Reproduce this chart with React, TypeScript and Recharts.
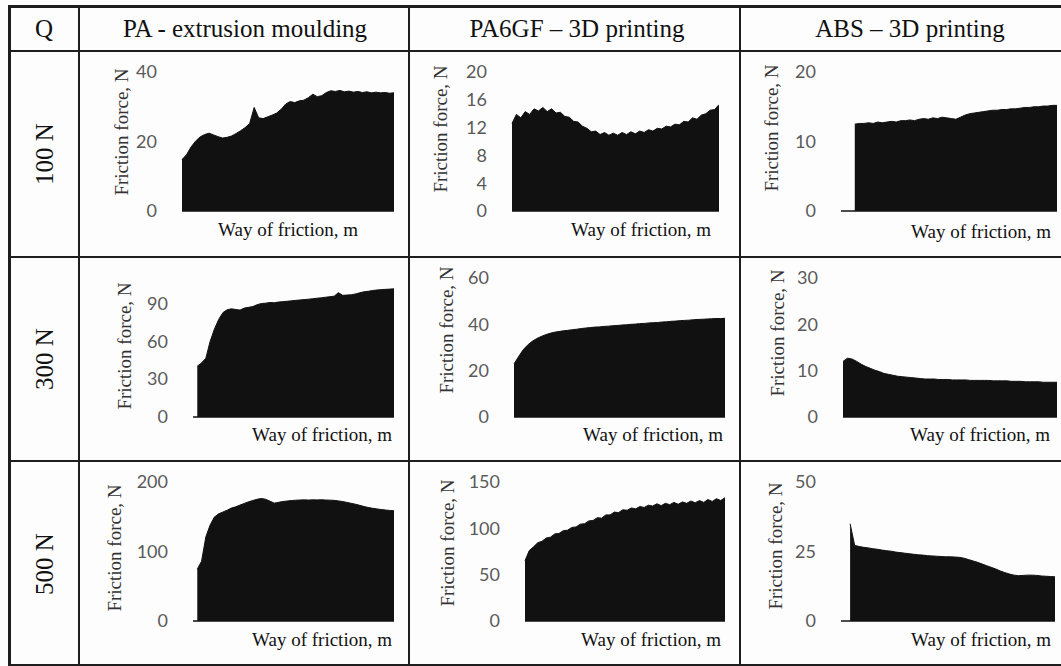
import { Area, AreaChart, ReferenceLine, XAxis, YAxis } from 'recharts'

// column / row headings
const materials = ['PA - extrusion moulding', 'PA6GF – 3D printing', 'ABS – 3D printing']
const loads = ['100 N', '300 N', '500 N']

// friction force readings, N (null = before the trace starts)
const paF100 = [14.8, 16.2, 18.4, 20.1, 21.3, 22.0, 22.4, 21.9, 21.4, 21.0, 21.2, 21.6, 22.3, 23.1, 24.0, 25.2, 29.8, 26.8, 26.6, 27.1, 27.6, 28.2, 29.3, 30.8, 31.5, 31.2, 31.7, 31.9, 32.6, 33.6, 32.9, 33.2, 34.1, 34.6, 34.4, 34.7, 34.3, 34.5, 34.2, 34.4, 34.1, 34.3, 34.0, 34.2, 34.0, 34.1, 33.9, 34.0]
const paF300 = [null, 40.2, 42.8, 46.5, 59.8, 69.5, 77.2, 82.6, 84.9, 85.6, 85.1, 84.6, 86.2, 86.8, 87.4, 88.9, 89.8, 90.1, 90.6, 90.4, 91.0, 91.3, 91.6, 91.9, 92.3, 92.6, 92.9, 93.2, 93.6, 94.0, 94.3, 94.8, 95.2, 95.6, 98.4, 96.3, 96.5, 96.7, 97.4, 98.3, 99.1, 99.5, 100.1, 100.5, 100.8, 101.0, 101.2, 101.4]
const paF500 = [null, 74.5, 86, 121, 138, 149.5, 154.2, 156.8, 159.5, 162.6, 164.3, 166.8, 169.2, 171.5, 173.4, 175.2, 176.3, 175.1, 172.4, 169.6, 170.8, 171.9, 172.6, 173.3, 173.8, 174.1, 174.3, 174.0, 174.4, 174.2, 174.5, 174.1, 173.9, 173.6, 172.8, 171.9, 170.6, 169.3, 168.0, 166.4, 164.7, 163.3, 162.2, 161.3, 160.4, 159.7, 159.1, 158.6]
const gfF100 = [12.6, 13.9, 13.4, 14.3, 13.9, 14.7, 14.4, 14.9, 14.3, 14.7, 14.1, 14.2, 13.6, 13.5, 12.9, 12.8, 12.2, 11.9, 11.4, 11.5, 11.0, 11.3, 10.9, 11.2, 10.9, 11.3, 11.0, 11.4, 11.1, 11.5, 11.3, 11.7, 11.5, 11.9, 11.8, 12.2, 12.1, 12.5, 12.4, 12.9, 12.8, 13.4, 13.2, 13.8, 14.0, 14.5, 14.6, 15.3]
const gfF300 = [22.9, 26.0, 28.9, 31.0, 32.6, 33.8, 34.7, 35.5, 36.1, 36.6, 36.9, 37.2, 37.4, 37.7, 37.9, 38.2, 38.4, 38.6, 38.8, 38.9, 39.1, 39.2, 39.4, 39.5, 39.7, 39.8, 40.0, 40.1, 40.3, 40.4, 40.6, 40.7, 40.8, 41.0, 41.1, 41.3, 41.4, 41.6, 41.7, 41.8, 42.0, 42.1, 42.2, 42.3, 42.4, 42.5, 42.5, 42.6]
const gfF500 = [65, 76, 80, 84.5, 86, 89.5, 90.5, 94, 94.5, 97.5, 98, 101, 101.5, 104.5, 105, 108, 108.5, 111.5, 111, 114.5, 114.5, 117.5, 117, 120, 119.5, 122, 121, 123.5, 122.5, 125, 124, 126.5, 124.5, 127, 125.5, 128, 126, 128.5, 127, 129.5, 127.5, 130, 128, 131, 129, 132, 130, 133]
const absF100 = [null, null, null, 12.5, 12.6, 12.6, 12.7, 12.6, 12.8, 12.7, 12.8, 12.9, 12.8, 13.0, 13.0, 13.1, 13.0, 13.2, 13.3, 13.2, 13.4, 13.3, 13.5, 13.4, 13.3, 13.2, 13.5, 13.8, 14.0, 14.1, 14.2, 14.3, 14.4, 14.5, 14.5, 14.6, 14.6, 14.7, 14.7, 14.8, 14.9, 14.9, 15.0, 15.0, 15.1, 15.1, 15.2, 15.2]
const absF300 = [12.0, 12.7, 12.5, 12.0, 11.4, 10.9, 10.5, 10.1, 9.8, 9.4, 9.2, 9.0, 8.8, 8.7, 8.6, 8.5, 8.4, 8.3, 8.2, 8.2, 8.2, 8.1, 8.1, 8.1, 8.0, 8.0, 8.0, 8.0, 7.9, 7.9, 7.9, 7.9, 7.9, 7.8, 7.8, 7.8, 7.8, 7.7, 7.7, 7.7, 7.6, 7.6, 7.6, 7.6, 7.5, 7.5, 7.5, 7.5]
const absF500 = [null, null, 35, 27.2, 26.8, 26.5, 26.3, 26.0, 25.8, 25.5, 25.3, 25.1, 24.8, 24.6, 24.4, 24.2, 24.0, 23.8, 23.7, 23.5, 23.4, 23.3, 23.2, 23.1, 23.1, 23.0, 22.9, 22.6, 22.1, 21.6, 21.1, 20.5, 19.9, 19.3, 18.7, 18.0, 17.4, 16.9, 16.5, 16.3, 16.4, 16.5, 16.5, 16.4, 16.2, 16.1, 16.0, 15.9]

// y axis ticks and axis maxima per panel
const paTicks = [[0, 20, 40], [0, 30, 60, 90], [0, 100, 200]]
const paMax = [40, 110, 200]
const gfTicks = [[0, 4, 8, 12, 16, 20], [0, 20, 40, 60], [0, 50, 100, 150]]
const gfMax = [20, 60, 150]
const absTicks = [[0, 10, 20], [0, 10, 20, 30], [0, 25, 50]]
const absMax = [20, 30, 50]

const yTitle = 'Friction force, N'
const xTitle = 'Way of friction, m'

// layout (pixels)
const ROW_TOP = [51, 257, 461]
const PLOT_H = 139
const YW = 70
const PAD = 18
const SERIF = '"Liberation Serif", "Times New Roman", serif'
const INK = '#111'

const panels = [
  { v: paF100, t: paTicks[0], max: paMax[0], row: 0, l: 182, r: 394, yl: [122, 132], xl: [288, 230] },
  { v: paF300, t: paTicks[1], max: paMax[1], row: 1, l: 193, r: 394, yl: [125, 346], xl: [322, 435] },
  { v: paF500, t: paTicks[2], max: paMax[2], row: 2, l: 193, r: 394, yl: [115, 548], xl: [322, 640] },
  { v: gfF100, t: gfTicks[0], max: gfMax[0], row: 0, l: 512, r: 719, yl: [441, 129], xl: [641, 230] },
  { v: gfF300, t: gfTicks[1], max: gfMax[1], row: 1, l: 514, r: 725, yl: [447, 330], xl: [653, 435] },
  { v: gfF500, t: gfTicks[2], max: gfMax[2], row: 2, l: 525, r: 725, yl: [448, 543], xl: [651, 640] },
  { v: absF100, t: absTicks[0], max: absMax[0], row: 0, l: 841, r: 1057, yl: [772, 128], xl: [981, 232] },
  { v: absF300, t: absTicks[1], max: absMax[1], row: 1, l: 843, r: 1057, yl: [778, 333], xl: [980, 435] },
  { v: absF500, t: absTicks[2], max: absMax[2], row: 2, l: 841, r: 1055, yl: [776, 546], xl: [981, 640] },
]

function Line({ x, y, w, h }: { x: number; y: number; w: number; h: number }) {
  return <div style={{ position: 'absolute', left: x, top: y, width: w, height: h, background: '#1e1e1e' }} />
}

function Label({ x, y, text, size, rotate, color }: any) {
  return (
    <div
      style={{
        position: 'absolute',
        left: x,
        top: y,
        transform: `translate(-50%, -50%)${rotate ? ' rotate(-90deg)' : ''}`,
        whiteSpace: 'nowrap',
        fontFamily: SERIF,
        fontSize: size,
        lineHeight: 1.2,
        color: color || INK,
      }}
    >
      {text}
    </div>
  )
}

function Panel({ p }: { p: (typeof panels)[number] }) {
  const data = p.v.map((f, i) => ({ i, f }))
  const top = ROW_TOP[p.row] + 21
  return (
    <>
      <div style={{ position: 'absolute', left: p.l - YW, top: top - PAD }}>
        <AreaChart
          width={p.r - p.l + YW}
          height={PLOT_H + 2 * PAD}
          data={data}
          margin={{ top: PAD, right: 0, bottom: PAD, left: 0 }}
        >
          <XAxis dataKey="i" type="number" domain={[0, data.length - 1]} hide />
          <YAxis
            width={YW}
            domain={[0, p.max]}
            ticks={p.t}
            interval={0}
            allowDataOverflow
            tickLine={false}
            axisLine={false}
            tickSize={0}
            tickMargin={25}
            tick={{ fill: '#5a5a5a', fontSize: 18, fontFamily: 'Lato, "Open Sans", sans-serif' }}
          />
          <ReferenceLine y={0} stroke={INK} strokeWidth={1.5} />
          <Area
            type="linear"
            dataKey="f"
            stroke={INK}
            strokeWidth={1}
            fill={INK}
            fillOpacity={1}
            dot={false}
            activeDot={false}
            isAnimationActive={false}
          />
        </AreaChart>
      </div>
      <Label x={p.yl[0]} y={p.yl[1]} text={yTitle} size={19} rotate color="#333" />
      <Label x={p.xl[0]} y={p.xl[1]} text={xTitle} size={19} />
    </>
  )
}

export default function App() {
  return (
    <div
      style={{
        position: 'absolute',
        left: 0,
        top: 0,
        width: 1061,
        height: 666,
        overflow: 'hidden',
        background: '#fdfdfd',
      }}
    >
      {/* table grid */}
      <Line x={8} y={5} w={1053} h={3} />
      <Line x={8} y={5} w={3} h={661} />
      <Line x={8} y={50} w={1053} h={2} />
      <Line x={8} y={256} w={1053} h={1.5} />
      <Line x={8} y={460} w={1053} h={1.5} />
      <Line x={8} y={664} w={1053} h={2} />
      <Line x={78} y={5} w={2} h={661} />
      <Line x={407.5} y={5} w={2.5} h={661} />
      <Line x={738.5} y={5} w={2.5} h={661} />

      {/* headings */}
      <Label x={44} y={29} text="Q" size={25} />
      <Label x={245} y={29} text={materials[0]} size={25} />
      <Label x={577} y={29} text={materials[1]} size={25} />
      <Label x={910} y={29} text={materials[2]} size={25} />
      {loads.map((t, i) => (
        <Label key={t} x={45} y={(ROW_TOP[i] + (ROW_TOP[i + 1] ?? 666)) / 2} text={t} size={25} rotate />
      ))}

      {panels.map((p, k) => (
        <Panel key={k} p={p} />
      ))}
    </div>
  )
}
